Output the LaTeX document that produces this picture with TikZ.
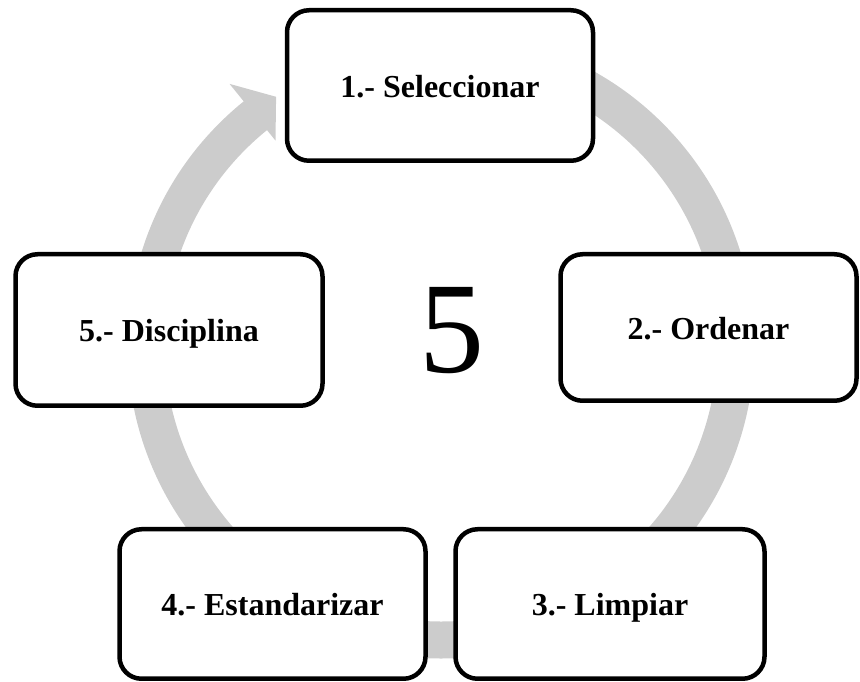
\documentclass[tikz,border=0pt]{standalone}
\usepackage{fontspec}
\setmainfont{Liberation Serif}
\usetikzlibrary{calc}
\definecolor{ringgray}{RGB}{204,204,204}
\begin{document}
\begin{tikzpicture}[x=1pt,y=1pt,
  stepbox/.style={draw=black, fill=white, line width=4.5pt, rounded corners=22pt,
    font=\fontsize{32}{36}\selectfont\bfseries, text height=27pt, text depth=3pt,
    inner sep=0pt},
  ring/.style={draw=ringgray, line width=37pt, line cap=butt}]
\useasboundingbox (0,0) rectangle (860,682);
\coordinate (c) at (441,337);
% ring and arrowhead
\draw[ring] (c) ++(128:295) arc[start angle=128, end angle=450, radius=295];
\fill[ringgray] ($(c)+(129:336)$) -- ($(c)+(123.6:298)$) -- ($(c)+(129:263)$) -- cycle;
% boxes
\node[stepbox, minimum width=306pt, minimum height=150.5pt] (b1) at (440,596.5) {1.- Seleccionar};
\node[stepbox, minimum width=296pt, minimum height=146.5pt] (b2) at (708.5,354.5) {2.- Ordenar};
\node[stepbox, minimum width=309pt, minimum height=149.5pt] (b3) at (610,78) {3.- Limpiar};
\node[stepbox, minimum width=306pt, minimum height=149.5pt] (b4) at (272.5,78) {4.- Estandarizar};
\node[stepbox, minimum width=307pt, minimum height=151.5pt] (b5) at (169,352) {5.- Disciplina};
\node[font=\fontsize{130}{140}\selectfont, inner sep=0pt] (five) at (452,351) {5};
\end{tikzpicture}
\end{document}
